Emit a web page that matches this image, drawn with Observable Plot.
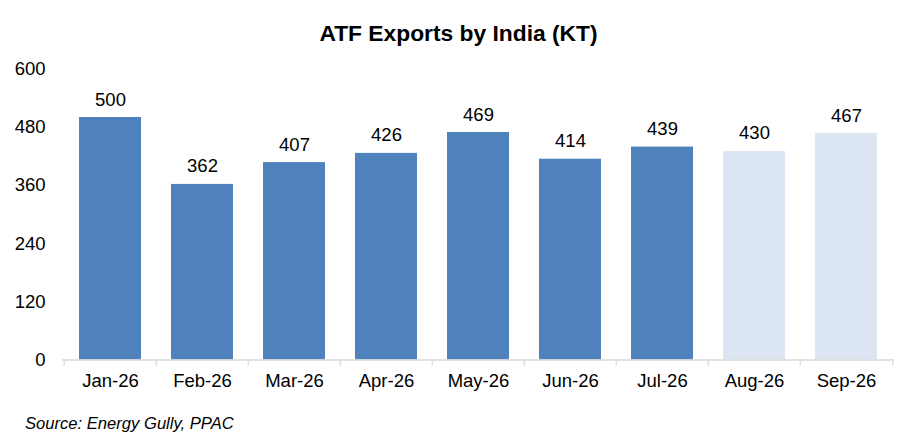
<!DOCTYPE html>
<html><head><meta charset="utf-8">
<script src="https://cdn.jsdelivr.net/npm/d3@7"></script>
<script src="https://cdn.jsdelivr.net/npm/@observablehq/plot@0.6"></script>
<style>body{margin:0;background:#fff}</style>
</head><body><div id="chart"></div>
<script>
const months = ["Jan-26","Feb-26","Mar-26","Apr-26","May-26","Jun-26","Jul-26","Aug-26","Sep-26"];
const exportsKT = [500,362,407,426,469,414,439,430,467];
const status = ["actual","actual","actual","actual","actual","actual","actual","estimate","estimate"];
const yTicks = [0,120,240,360,480,600];
const title = "ATF Exports by India (KT)";
const source = "Source: Energy Gully, PPAC";

const data = months.map((m,i)=>({month:m, value:exportsKT[i], status:status[i]}));
const W=917, H=444, mL=61.7, mR=22.8, mT=68.5, mB=84.5;
const step=(W-mL-mR)/months.length;
const font = "Arial, 'Liberation Sans', sans-serif";

const chart = Plot.plot({
  width:W, height:H, marginLeft:mL, marginRight:mR, marginTop:mT, marginBottom:mB,
  style:{fontFamily:font, fontSize:"18.5px", color:"#000", background:"#fff"},
  x:{domain:months, paddingInner:0.327, paddingOuter:0.1635},
  y:{domain:[0,600]},
  color:{domain:["actual","estimate"], range:["#4F81BD","#DCE6F2"]},
  marks:[
    Plot.barY(data,{x:"month", y:"value", fill:"status"}),
    Plot.ruleY([0],{stroke:"#d9d9d9", strokeWidth:1.3}),
    Plot.ruleX(months,{x:d=>d, y1:0, y2:0, insetBottom:-6, dx:-step/2, stroke:"#d9d9d9", strokeWidth:1.3}),
    Plot.ruleX([months[months.length-1]],{x:d=>d, y1:0, y2:0, insetBottom:-6, dx:step/2, stroke:"#d9d9d9", strokeWidth:1.3}),
    Plot.text(data,{x:"month", y:"value", text:d=>String(d.value), dy:-12, lineAnchor:"bottom", fill:"#000", fontSize:18.5}),
    Plot.axisX({tickSize:0, tickPadding:14, fontSize:18.5, label:null}),
    Plot.axisY({ticks:yTicks, tickSize:0, tickPadding:16.7, fontSize:18.5, label:null})
  ]
});
const svg = d3.select(chart);
svg.append("text").attr("x", W/2).attr("y", 40.7).attr("text-anchor","middle")
  .style("font-family", font).style("font-weight","bold").style("font-size","22.8px").attr("fill","#000").text(title);
svg.append("text").attr("x", 25).attr("y", 429).attr("text-anchor","start")
  .style("font-family", font).style("font-style","italic").style("font-size","16.6px").attr("fill","#000").text(source);
document.getElementById("chart").appendChild(chart);
</script>
</body></html>
